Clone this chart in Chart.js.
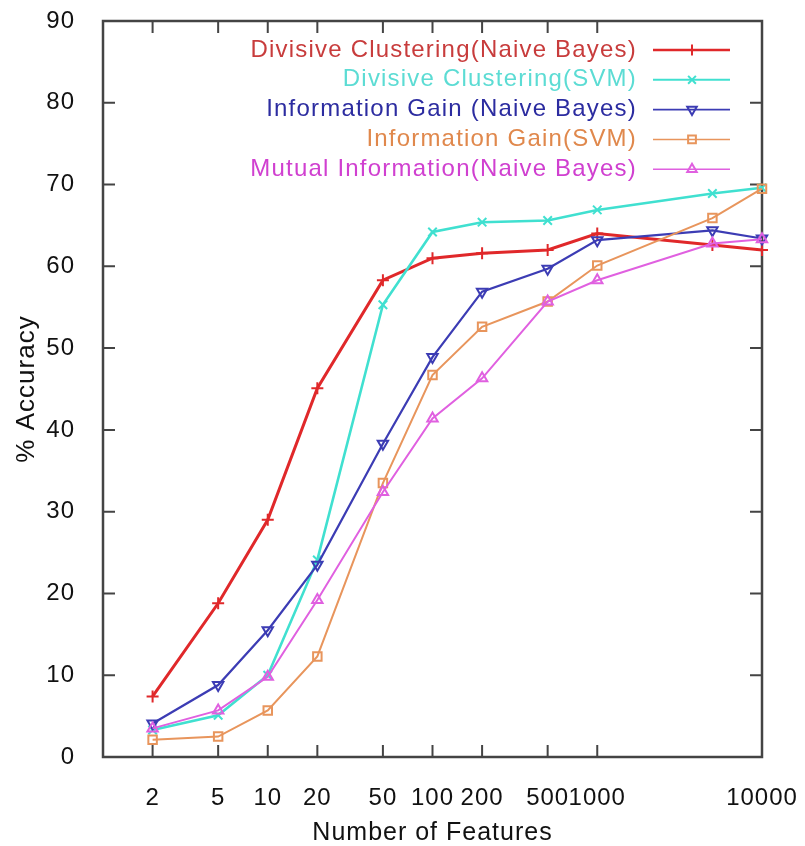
<!DOCTYPE html>
<html><head><meta charset="utf-8">
<script src="https://cdn.jsdelivr.net/npm/chart.js@4.4.0/dist/chart.umd.min.js"></script>
<style>html,body{margin:0;padding:0;background:#fff}#wrap{width:805px;height:846px;position:relative}</style>
</head><body><div id="wrap"><canvas id="c"></canvas></div>
<script>
// ---- data ----
const features = [2, 5, 10, 20, 50, 100, 200, 500, 1000, 5000, 10000];
const xTickValues = [2, 5, 10, 20, 50, 100, 200, 500, 1000, 10000];
const yTickValues = [0, 10, 20, 30, 40, 50, 60, 70, 80, 90];
const seriesNames = [
  'Divisive Clustering(Naive Bayes)',
  'Divisive Clustering(SVM)',
  'Information Gain (Naive Bayes)',
  'Information Gain(SVM)',
  'Mutual Information(Naive Bayes)'
];
const dcNaiveBayes = [7.4, 18.8, 29.0, 45.1, 58.3, 61.0, 61.6, 62.0, 64.0, 62.6, 62.0];
const dcSVM        = [3.3, 5.1, 10.0, 24.1, 55.3, 64.2, 65.4, 65.6, 66.9, 68.9, 69.6];
const igNaiveBayes = [4.1, 8.8, 15.5, 23.5, 38.3, 48.9, 56.9, 59.7, 63.2, 64.4, 63.4];
const igSVM        = [2.1, 2.5, 5.7, 12.3, 33.5, 46.7, 52.6, 55.7, 60.1, 65.9, 69.5];
const miNaiveBayes = [3.5, 5.7, 9.8, 19.2, 32.4, 41.4, 46.3, 55.7, 58.3, 62.8, 63.3];

// ---- styles ----
const seriesValues = [dcNaiveBayes, dcSVM, igNaiveBayes, igSVM, miNaiveBayes];
const lineColors = ['#e0282a', '#40e0d0', '#3c3cb4', '#e8955c', '#e060e0'];
const textColors = ['#c83c3c', '#5cdcd4', '#2c2ca0', '#e0884c', '#d040d0'];
const lineWidths = [3, 2.6, 2.2, 2, 2];
const pointStyles = ['cross', 'crossRot', 'triangle', 'rect', 'triangle'];
const pointRotations = [0, 0, 180, 0, 0];

const FONT = '"Liberation Sans", Arial, Helvetica, sans-serif';
Chart.defaults.font.family = FONT;
Chart.defaults.color = '#111';

const datasets = seriesNames.map((name, i) => ({
  label: name,
  data: features.map((f, j) => ({ x: f, y: seriesValues[i][j] })),
  borderColor: lineColors[i],
  backgroundColor: 'rgba(0,0,0,0)',
  borderWidth: lineWidths[i],
  pointStyle: pointStyles[i],
  pointRotation: pointRotations[i],
  pointRadius: 6,
  pointBorderWidth: 2,
  pointBorderColor: lineColors[i],
  pointBackgroundColor: 'rgba(0,0,0,0)',
  tension: 0,
  fill: false,
  clip: false,
  order: seriesNames.length - i
}));

const spacingPlugin = {
  id: 'spacing',
  beforeLayout(chart) { chart.ctx.letterSpacing = '1px'; },
  beforeDraw(chart) { chart.ctx.letterSpacing = '1px'; }
};

const framePlugin = {
  id: 'frame',
  beforeDatasetsDraw(chart) {
    const { ctx, chartArea: a, scales: { x, y } } = chart;
    ctx.save();
    ctx.strokeStyle = '#444';
    ctx.lineWidth = 2.5;
    ctx.strokeRect(a.left, a.top, a.right - a.left, a.bottom - a.top);
    ctx.lineWidth = 2;
    ctx.beginPath();
    const tl = 12;
    x.ticks.forEach(t => {
      const px = x.getPixelForValue(t.value);
      ctx.moveTo(px, a.bottom); ctx.lineTo(px, a.bottom - tl);
      ctx.moveTo(px, a.top); ctx.lineTo(px, a.top + tl);
    });
    y.ticks.forEach(t => {
      const py = y.getPixelForValue(t.value);
      ctx.moveTo(a.left, py); ctx.lineTo(a.left + tl, py);
      ctx.moveTo(a.right, py); ctx.lineTo(a.right - tl, py);
    });
    ctx.stroke();
    ctx.restore();
  }
};

const legendPlugin = {
  id: 'gpLegend',
  afterDraw(chart) {
    const { ctx, chartArea: a } = chart;
    ctx.save();
    const textRight = a.right - 125;
    const lineL = a.right - 109, lineR = a.right - 32, mk = a.right - 70;
    chart.data.datasets.forEach((ds, i) => {
      const y = a.top + 29 + i * 29.8;
      ctx.font = '24px ' + FONT;
      ctx.letterSpacing = '1.2px';
      ctx.fillStyle = textColors[i];
      ctx.textAlign = 'right';
      ctx.textBaseline = 'middle';
      ctx.fillText(ds.label, textRight, y);
      ctx.strokeStyle = ds.borderColor;
      ctx.lineWidth = Math.max(1.5, ds.borderWidth - 0.5);
      ctx.beginPath(); ctx.moveTo(lineL, y); ctx.lineTo(lineR, y); ctx.stroke();
      ctx.fillStyle = 'rgba(0,0,0,0)';
      ctx.lineWidth = 2;
      Chart.helpers.drawPoint(ctx, { pointStyle: ds.pointStyle, rotation: ds.pointRotation, radius: 5.5, borderWidth: 2 }, mk, y);
    });
    ctx.restore();
  }
};

new Chart(document.getElementById('c'), {
  type: 'line',
  data: { datasets },
  options: {
    responsive: true,
    maintainAspectRatio: false,
    animation: false,
    layout: { padding: { top: 21, right: 43, left: 0, bottom: 0 } },
    plugins: { legend: { display: false }, tooltip: { enabled: false } },
    scales: {
      x: {
        type: 'logarithmic',
        min: 1, max: 10000,
        grid: { display: false },
        border: { display: false },
        afterBuildTicks: s => { s.ticks = xTickValues.map(v => ({ value: v })); },
        afterFit: s => { s.height = 89; s.paddingLeft = 0; s.paddingRight = 0; },
        ticks: {
          autoSkip: false, maxRotation: 0, minRotation: 0, padding: 19,
          font: { size: 24 }, color: '#111',
          callback: v => String(v)
        },
        title: { display: true, text: 'Number of Features', font: { size: 25, lineHeight: 1 }, padding: { top: 0, bottom: 0 }, color: '#111' }
      },
      y: {
        type: 'linear',
        min: 0, max: 90,
        grid: { display: false },
        border: { display: false },
        afterBuildTicks: s => { s.ticks = yTickValues.map(v => ({ value: v })); },
        afterFit: s => { s.width = 103; s.paddingTop = 0; s.paddingBottom = 0; },
        ticks: { padding: 20, font: { size: 24 }, color: '#111', callback: v => String(v) },
        title: { display: true, text: '% Accuracy', font: { size: 26, lineHeight: 1 }, padding: { top: 14, bottom: 0 }, color: '#111' }
      }
    }
  },
  plugins: [spacingPlugin, framePlugin, legendPlugin]
});
</script></body></html>
